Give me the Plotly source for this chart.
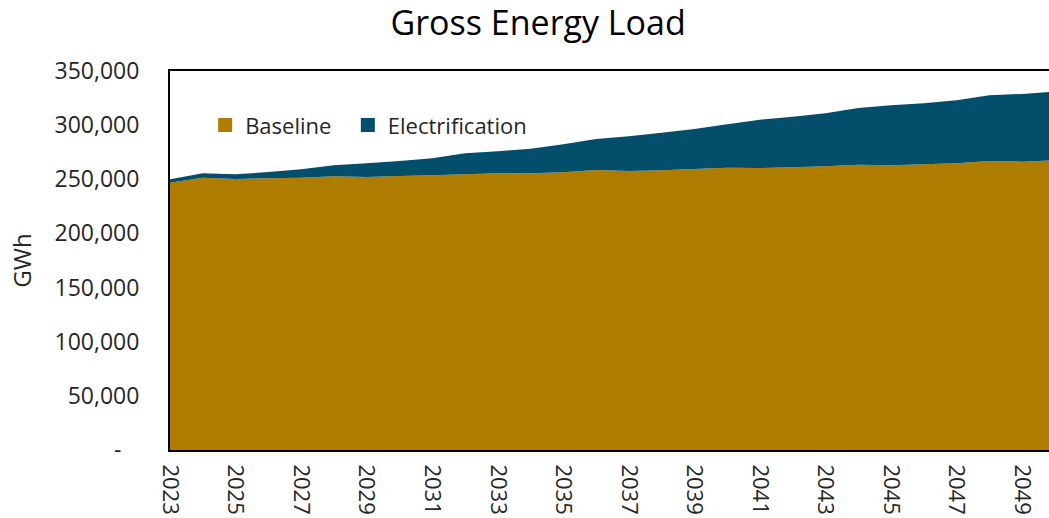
import plotly.graph_objects as go

years = list(range(2023, 2051))
baseline = [246900, 251500, 250300, 250900, 251500, 252700, 252100, 253000, 253700, 254600,
            255500, 255500, 256400, 258600, 257700, 258300, 259500, 260700, 260400, 261000,
            262000, 263500, 262900, 263800, 264800, 266900, 266300, 267500]
electrification = [3100, 4000, 4300, 5800, 7700, 10200, 12700, 13900, 15700, 19400,
                   20300, 22800, 25900, 28600, 32000, 34700, 36900, 40100, 44600, 46800,
                   49000, 52300, 55400, 56400, 58100, 60700, 62500, 63500]

y_tickvals = [0, 50000, 100000, 150000, 200000, 250000, 300000, 350000]
y_ticktext = ["-\u00a0\u00a0\u00a0", "50,000", "100,000", "150,000", "200,000", "250,000", "300,000", "350,000"]
x_tickvals = list(range(2023, 2050, 2))
x_ticktext = [str(v) for v in x_tickvals]

c_base = "#AE7D00"
c_elec = "#034E6B"
txt = "#262626"
FONT = "Open Sans"

fig = go.Figure()
fig.add_trace(go.Scatter(x=years, y=baseline, stackgroup="one", mode="none",
                         fillcolor=c_base, name="Baseline", showlegend=False, hoverinfo="x+y"))
fig.add_trace(go.Scatter(x=years, y=electrification, stackgroup="one", mode="none",
                         fillcolor=c_elec, name="Electrification", showlegend=False, hoverinfo="x+y"))
# legend entries with square swatches
fig.add_trace(go.Scatter(x=[None], y=[None], mode="markers", name="Baseline\u00a0\u00a0",
                         marker=dict(symbol="square", size=14, color=c_base)))
fig.add_trace(go.Scatter(x=[None], y=[None], mode="markers", name="Electrification",
                         marker=dict(symbol="square", size=14, color=c_elec)))

fig.update_layout(
    width=1049, height=518,
    margin=dict(l=170, r=0, t=71, b=68),
    paper_bgcolor="white", plot_bgcolor="white",
    font=dict(family=FONT, color=txt, size=22),
    title=dict(text="Gross Energy Load", x=0.513, xref="container", xanchor="center",
               y=1 - 23 / 518, yref="container", yanchor="middle",
               font=dict(family=FONT, size=34, color="#000000")),
    showlegend=True,
    legend=dict(orientation="h", x=0.040, xanchor="left", y=0.857, yanchor="middle",
                traceorder="normal",
                bgcolor="rgba(0,0,0,0)", font=dict(family=FONT, size=22, color=txt),
                itemclick=False, itemdoubleclick=False),
    xaxis=dict(range=[2023, 2049.82], tickmode="array", tickvals=x_tickvals, ticktext=x_ticktext,
               tickangle=90, showgrid=False, zeroline=False, showline=True, linecolor="black",
               linewidth=2, mirror=True, ticks="", ticklabelstandoff=8,
               tickfont=dict(family=FONT, size=22, color=txt)),
    yaxis=dict(range=[0, 350000], tickmode="array", tickvals=y_tickvals, ticktext=y_ticktext,
               showgrid=False, zeroline=False, showline=True, linecolor="black", linewidth=2,
               ticks="", ticklabelstandoff=24, tickfont=dict(family=FONT, size=23, color=txt)),
)
fig.update_yaxes(title=dict(text="GWh", standoff=16, font=dict(family=FONT, size=24, color=txt)))

fig.write_html("out.html", config={"displayModeBar": False},
               post_script="document.body.style.margin='0';document.body.style.overflow='hidden';")
